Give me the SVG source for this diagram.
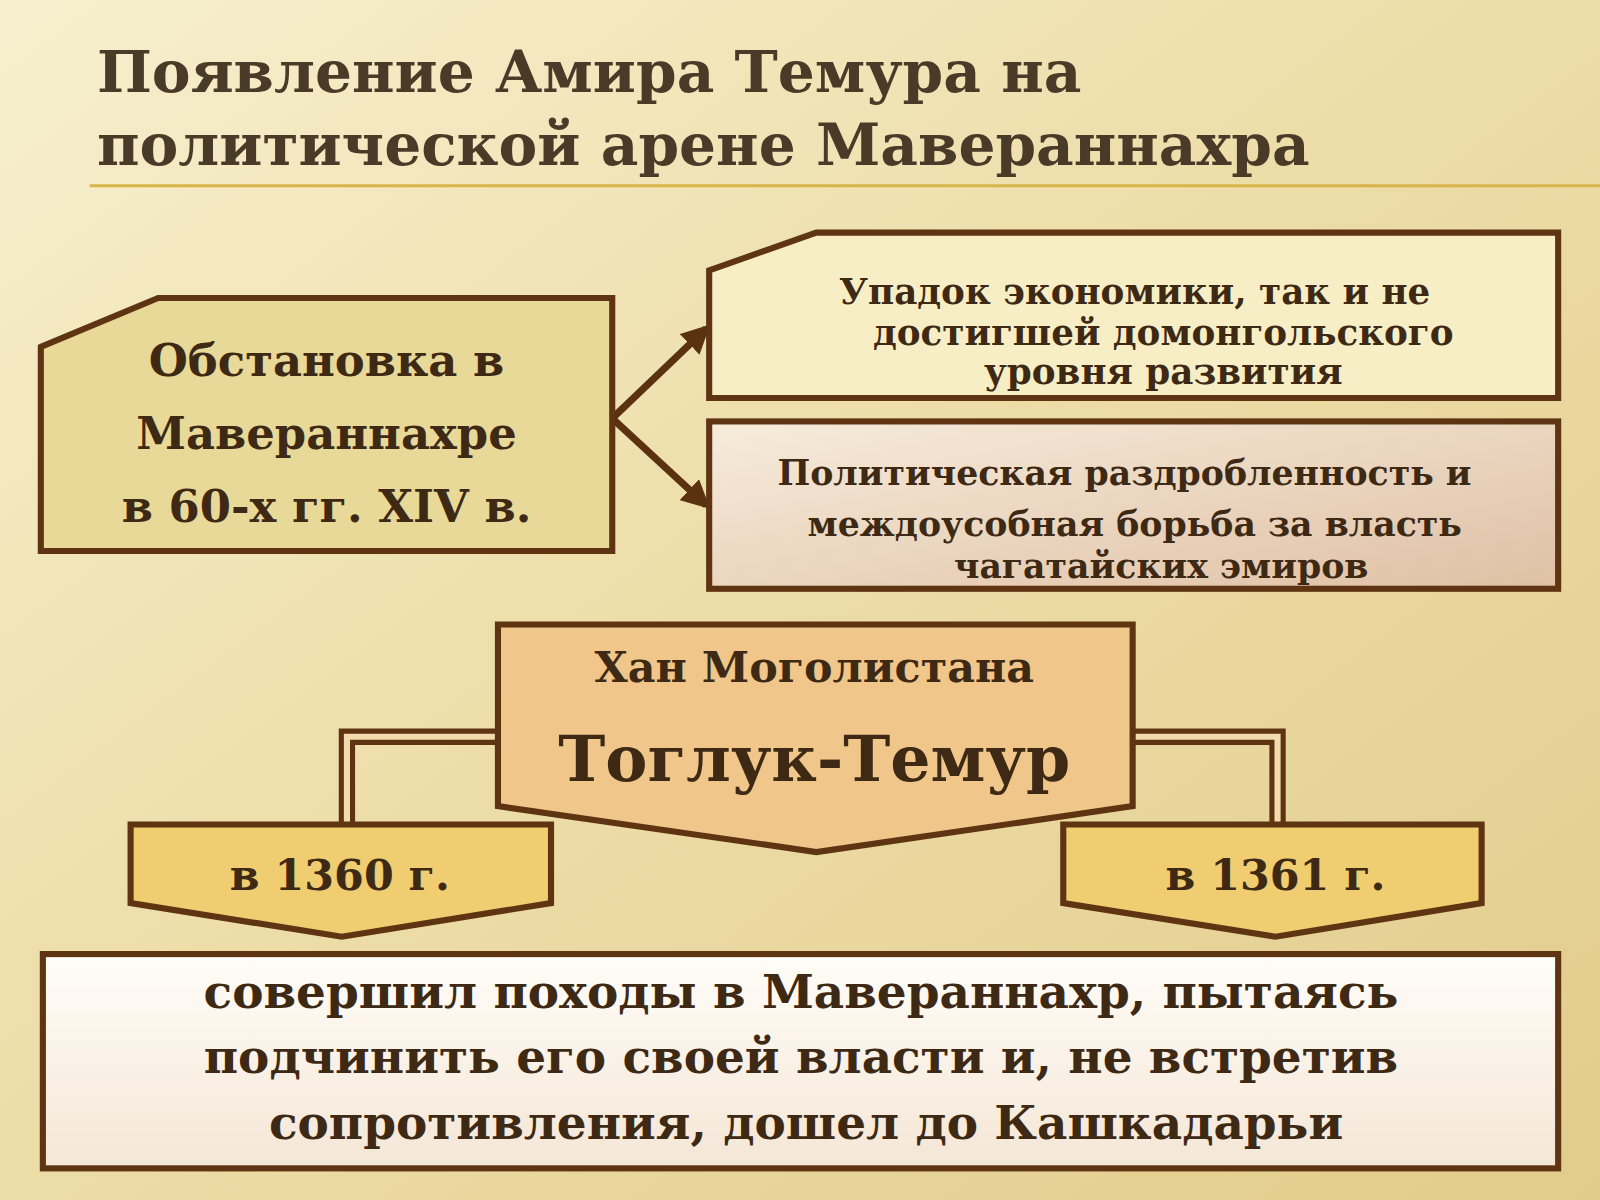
<svg xmlns="http://www.w3.org/2000/svg" width="1600" height="1200" viewBox="0 0 1600 1200">
<defs>
<linearGradient id="bg" x1="0" y1="0" x2="1" y2="1"><stop offset="0" stop-color="#f7efce"/><stop offset="0.5" stop-color="#ecdca6"/><stop offset="1" stop-color="#e2cc8c"/></linearGradient>
<linearGradient id="pink" x1="0" y1="0" x2="1" y2="1"><stop offset="0" stop-color="#f7ecdc"/><stop offset="1" stop-color="#dfc0a4"/></linearGradient>
<linearGradient id="wh" x1="0" y1="0" x2="0" y2="1"><stop offset="0" stop-color="#fffdf8"/><stop offset="1" stop-color="#f5e6d6"/></linearGradient>
<marker id="ah" viewBox="0 0 10 10" refX="8" refY="5" markerWidth="4" markerHeight="4" orient="auto"><path d="M0,0L10,5L0,10z" fill="#5a3210"/></marker>
</defs>
<style>
.bx{stroke:#5e3412;stroke-width:6;stroke-linejoin:miter}
.t{font-family:"DejaVu Serif","Liberation Serif",serif;font-weight:bold;fill:#3e2a14;text-anchor:middle}
</style>
<rect width="1600" height="1200" fill="url(#bg)"/>
<g transform="scale(1.0204)">
<g id="title">
<text x="95" y="90" font-family="DejaVu Serif,serif" font-weight="bold" font-size="57" fill="#4a3a28">Появление Амира Темура на</text>
<text x="95" y="162" font-family="DejaVu Serif,serif" font-weight="bold" font-size="57" fill="#4a3a28">политической арене Мавераннахра</text>
<line x1="88" y1="182" x2="1568" y2="182" stroke="#d9b44a" stroke-width="3"/>
</g>
<g id="connectors" fill="none">
<line x1="600" y1="410" x2="692" y2="322" stroke="#5a3210" stroke-width="7" marker-end="url(#ah)"/>
<line x1="600" y1="410" x2="692" y2="495" stroke="#5a3210" stroke-width="7" marker-end="url(#ah)"/>
<path d="M488,722H340V810M1110,722H1252V810" stroke="#5e3412" stroke-width="16"/>
<path d="M488,722H340V810M1110,722H1252V810" stroke="#f2dcae" stroke-width="6"/>
</g>
<g id="left">
<polygon class="bx" points="40,340 155,292 600,292 600,540 40,540" fill="#e9d998"/>
<text class="t" font-size="44"><tspan x="320" y="368">Обстановка в</tspan><tspan x="320" y="440">Мавераннахре</tspan><tspan x="320" y="512">в 60-х гг. XIV в.</tspan></text>
</g>
<g id="r1">
<polygon class="bx" points="695,265 800,228 1527,228 1527,390 695,390" fill="#f8eec6"/>
<text class="t" font-size="35"><tspan x="1112" y="298">Упадок экономики, так и не</tspan><tspan x="1140" y="338">достигшей домонгольского</tspan><tspan x="1140" y="376">уровня развития</tspan></text>
</g>
<g id="r2">
<rect class="bx" x="695" y="413" width="832" height="164" fill="url(#pink)"/>
<text class="t" font-size="34"><tspan x="1102" y="475">Политическая раздробленность и</tspan><tspan x="1112" y="525">междоусобная борьба за власть</tspan><tspan x="1138" y="566">чагатайских эмиров</tspan></text>
</g>
<g id="khan">
<polygon class="bx" points="488,612 1110,612 1110,790 800,835 488,790" fill="#f0c68a"/>
<text class="t" font-size="42" x="798" y="668">Хан Моголистана</text>
<text class="t" font-size="62" x="798" y="765">Тоглук-Темур</text>
</g>
<g id="y1360">
<polygon class="bx" points="128,808 540,808 540,885 335,918 128,885" fill="#efcd70"/>
<text class="t" font-size="42" x="333" y="872">в 1360 г.</text>
</g>
<g id="y1361">
<polygon class="bx" points="1042,808 1452,808 1452,885 1250,918 1042,885" fill="#efcd70"/>
<text class="t" font-size="42" x="1250" y="872">в 1361 г.</text>
</g>
<g id="bottom">
<rect class="bx" x="42" y="935" width="1485" height="210" fill="url(#wh)"/>
<text class="t" font-size="46"><tspan x="785" y="988">совершил походы в Мавераннахр, пытаясь</tspan><tspan x="785" y="1052">подчинить его своей власти и, не встретив</tspan><tspan x="790" y="1116">сопротивления, дошел до Кашкадарьи</tspan></text>
</g>
</g>
</svg>
